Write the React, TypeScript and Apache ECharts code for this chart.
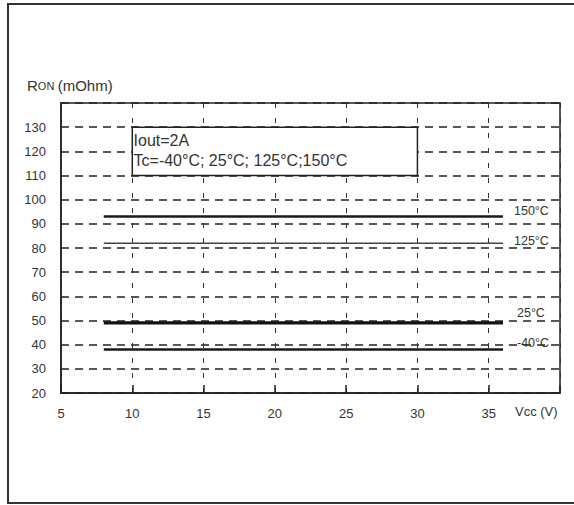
import React, { useEffect, useRef } from "react";
import * as echarts from "echarts";

const xStart = 8;
const xEnd = 36;
const seriesNames = ["150°C", "125°C", "25°C", "-40°C"];
const seriesValues = [93, 82, 49, 38];
const xTicks = [5, 10, 15, 20, 25, 30, 35];
const yTicks = [20, 30, 40, 50, 60, 70, 80, 90, 100, 110, 120, 130];
const noteLines = ["Iout=2A", "Tc=-40°C; 25°C; 125°C;150°C"];
const noteBox = { x0: 10, x1: 30, y0: 110, y1: 130 };

const lineWidths = [2.5, 1.5, 3.2, 2.5];
const lineColors = ["#1a1a1a", "#444444", "#111111", "#1a1a1a"];
const labelOffsets: [number, number][] = [
  [3, -6],
  [3, -2],
  [6, -10],
  [6, -7],
];

export default function App() {
  const ref = useRef<HTMLDivElement>(null);
  useEffect(() => {
    if (!ref.current) return;
    const chart = echarts.init(ref.current, null, { renderer: "svg" });
    const font = "'Liberation Sans', Arial, sans-serif";
    const series: any[] = seriesNames.map((name, i) => ({
      name,
      type: "line",
      data: [
        [xStart, seriesValues[i]],
        [xEnd, seriesValues[i]],
      ],
      showSymbol: false,
      lineStyle: { color: lineColors[i], width: lineWidths[i] },
      z: 5,
      endLabel: {
        show: true,
        formatter: name,
        offset: labelOffsets[i],
        color: "#333",
        fontSize: 12.5,
        fontFamily: font,
      },
    }));
    series.push({
      type: "line",
      data: [],
      markArea: {
        silent: true,
        itemStyle: { color: "#fff", borderColor: "#222", borderWidth: 1.5 },
        label: {
          show: true,
          position: "insideTopLeft",
          distance: 0,
          padding: [4, 0, 0, 2],
          formatter: noteLines.join("\n"),
          color: "#333",
          fontSize: 16,
          lineHeight: 20,
          fontFamily: font,
        },
        data: [
          [
            { coord: [noteBox.x0, noteBox.y1] },
            { coord: [noteBox.x1, noteBox.y0] },
          ],
        ],
      },
    });
    chart.setOption({
      animation: false,
      backgroundColor: "#fff",
      textStyle: { fontFamily: font },
      grid: {
        left: 61,
        top: 103,
        right: 14,
        bottom: 112,
        show: true,
        borderColor: "#222",
        borderWidth: 1.5,
        backgroundColor: "transparent",
      },
      xAxis: {
        type: "value",
        min: 5,
        max: 40,
        interval: 5,
        axisLine: { show: true, lineStyle: { color: "#222", width: 1.5 } },
        axisTick: { show: true, inside: true, length: 8, lineStyle: { color: "#222", width: 1.5 } },
        axisLabel: {
          color: "#333",
          fontSize: 13,
          margin: 14,
          formatter: (v: number) => (xTicks.includes(v) ? String(v) : ""),
        },
        splitLine: {
          show: true,
          lineStyle: { color: "#333", width: 1, type: [5, 10] },
        },
      },
      yAxis: {
        type: "value",
        min: 20,
        max: 140,
        interval: 10,
        axisLine: { show: true, lineStyle: { color: "#222", width: 1.5 } },
        axisTick: { show: false },
        axisLabel: {
          color: "#333",
          fontSize: 13,
          margin: 15,
          formatter: (v: number) => (yTicks.includes(v) ? String(v) : ""),
        },
        splitLine: {
          show: true,
          lineStyle: { color: "#222", width: 1.5, type: [8, 6] },
        },
      },
      graphic: [
        {
          type: "rect",
          shape: { x: 8, y: 4, width: 600, height: 499 },
          style: { fill: "none", stroke: "#333", lineWidth: 2 },
          silent: true,
        },
        {
          type: "text",
          x: 27,
          y: 78,
          style: {
            text: "{a|R}{b|ON} {a|(mOhm)}",
            rich: {
              a: { fontSize: 15, fontFamily: font, fill: "#333" },
              b: { fontSize: 11, fontFamily: font, fill: "#333" },
            },
            fill: "#333",
          },
        },
        {
          type: "text",
          x: 515,
          y: 405,
          style: { text: "Vcc (V)", fontSize: 13, fontFamily: font, fill: "#333" },
        },
      ],
      series,
    });
    return () => chart.dispose();
  }, []);
  return (
    <div
      ref={ref}
      style={{ position: "fixed", left: 0, top: 0, width: 574, height: 505 }}
    />
  );
}
